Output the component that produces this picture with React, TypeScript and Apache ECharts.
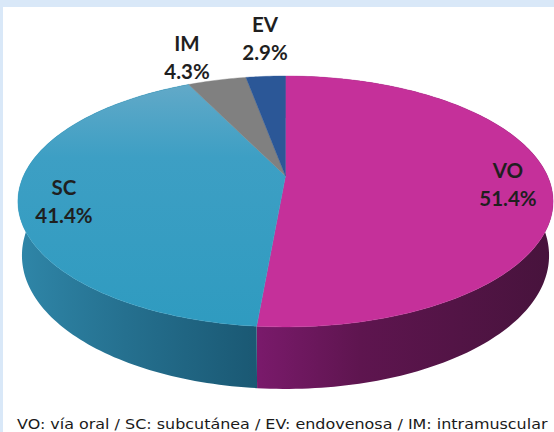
import React, { useEffect, useRef } from "react";
import * as echarts from "echarts";

const categories = ["VO", "SC", "IM", "EV"];
const values = [51.4, 41.4, 4.3, 2.9];
const topColors = ["#c5309a", "#339cc2", "#808080", "#2b5797"];
const caption = "VO: vía oral / SC: subcutánea / EV: endovenosa / IM: intramuscular";
const labelCenters: Record<string, number[]> = { VO: [508, 184], SC: [64, 201], IM: [187, 57], EV: [265, 38] };

const APEX_X = 285.5, APEX_Y = 176, R = 262, RY = 120.3, K = -0.203, BASE_SCALE = 0.985;

function project(angle: number): number[] {
  const u = Math.sin(angle), v = -Math.cos(angle);
  const d = 1 + K * v;
  return [APEX_X + (R * u) / d, APEX_Y + (RY * v) / d];
}
function depth(angle: number) {
  return 52 + 10 * -Math.cos(angle);
}
function arcPoints(a: number, b: number, offset = false) {
  const n = Math.max(2, Math.ceil(Math.abs(b - a) / 0.02));
  const pts: number[][] = [];
  for (let i = 0; i <= n; i++) {
    const t = a + ((b - a) * i) / n;
    const p = project(t);
    pts.push(offset ? [APEX_X + (p[0] - APEX_X) * BASE_SCALE, p[1] + depth(t)] : p);
  }
  return pts;
}
const total = values.reduce((s, x) => s + x, 0);
const sideGradients: Record<string, any> = {
  VO: { type: "linear", x: 0, y: 0, x2: 1, y2: 0, colorStops: [
    { offset: 0, color: "#7a1a6b" }, { offset: 0.35, color: "#5e154f" }, { offset: 1, color: "#47133c" } ] },
  SC: { type: "linear", x: 0, y: 0, x2: 1, y2: 0, colorStops: [
    { offset: 0, color: "#2f86a8" }, { offset: 0.45, color: "#25708f" }, { offset: 1, color: "#1a5873" } ] },
};
const topFill: Record<string, any> = {
  SC: { type: "linear", x: 0, y: 0, x2: 0, y2: 1, colorStops: [
    { offset: 0, color: "#62a9c8" }, { offset: 0.3, color: "#3d9fc4" }, { offset: 1, color: "#2f9bc0" } ] },
};

export default function App() {
  const ref = useRef<HTMLDivElement>(null);
  useEffect(() => {
    document.body.style.margin = "0";
    const chart = echarts.init(ref.current!, undefined, { renderer: "svg" });
    const cum: number[] = [];
    values.reduce((s, x, i) => ((cum[i] = s), s + x), 0);
    chart.setOption({
      animation: false,
      backgroundColor: "#d9e8f8",
      graphic: [
        { type: "rect", z: -1, shape: { x: 3, y: 7, width: 551, height: 425 }, style: { fill: "#ffffff" } },
        { type: "text", z: 5, x: 17, y: 424, scaleX: 1.1, style: { text: caption, font: "14.5px 'DejaVu Sans'", fill: "#1a1a1a", verticalAlign: "middle" } },
      ],
      series: [
        {
          type: "custom",
          coordinateSystem: "none",
          silent: true,
          data: values.map((v, i) => [i, v]),
          renderItem: (params: any) => {
            const i = params.dataIndex;
            const a = (cum[i] / total) * Math.PI * 2;
            const b = ((cum[i] + values[i]) / total) * Math.PI * 2;
            const name = categories[i];
            const top = [[APEX_X, APEX_Y], ...arcPoints(a, b)];
            const children: any[] = [];
            if (sideGradients[name]) {
              const upper = arcPoints(a, b);
              const lower = arcPoints(b, a, true);
              children.push({ type: "polygon", z2: 1, shape: { points: [...upper, ...lower] }, style: { fill: sideGradients[name] } });
            }
            children.push({ type: "polygon", z2: 2, shape: { points: top }, style: { fill: topFill[name] || topColors[i], stroke: topColors[i], lineWidth: 0.4 } });
            const c = labelCenters[name];
            children.push({
              type: "text", z2: 3, x: c[0], y: c[1],
              style: {
                text: `${name}\n${values[i].toFixed(1)}%`,
                align: "center", verticalAlign: "middle", lineHeight: 28,
                font: "bold 20.5px Lato", fill: "#1f1f1f",
              },
            });
            return { type: "group", children };
          },
        },
      ],
    });
    return () => chart.dispose();
  }, []);
  return <div ref={ref} style={{ width: 554, height: 432 }} />;
}
